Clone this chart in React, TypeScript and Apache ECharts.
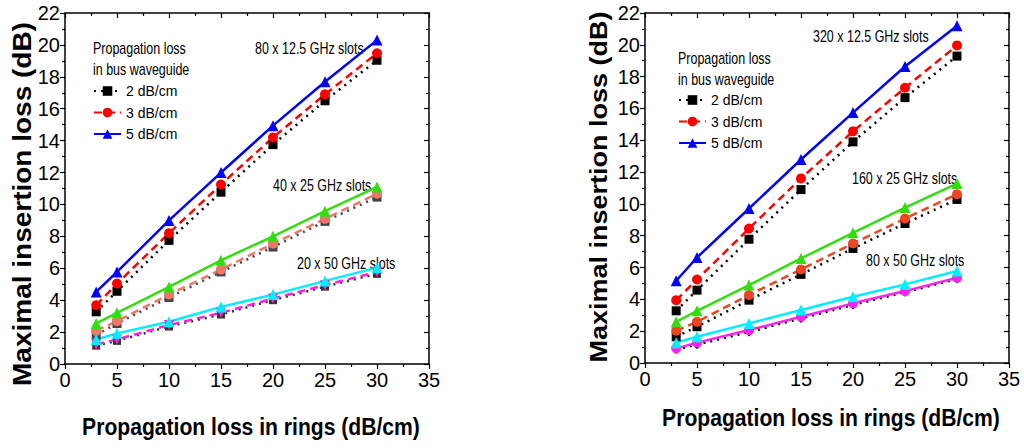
import React, { useEffect, useRef } from "react";
import * as echarts from "echarts";

const X = [3, 5, 10, 15, 20, 25, 30];
const X_TICKS = [0, 5, 10, 15, 20, 25, 30, 35];
const Y_TICKS = [0, 2, 4, 6, 8, 10, 12, 14, 16, 18, 20, 22];

// Left panel
const L_A_2 = [3.27, 4.56, 7.75, 10.77, 13.75, 16.5, 19.04];
const L_A_3 = [3.69, 5.04, 8.2, 11.25, 14.2, 16.9, 19.48];
const L_A_5 = [4.52, 5.77, 9.0, 12.0, 14.94, 17.69, 20.3];
const L_B_2 = [1.81, 2.54, 4.17, 5.77, 7.33, 8.94, 10.46];
const L_B_3 = [2.08, 2.69, 4.35, 5.92, 7.54, 9.1, 10.67];
const L_B_5 = [2.54, 3.21, 4.83, 6.5, 8.0, 9.58, 11.1];
const L_C_2 = [1.15, 1.45, 2.35, 3.1, 4.0, 4.85, 5.65];
const L_C_3 = [1.23, 1.54, 2.44, 3.21, 4.1, 4.94, 5.77];
const L_C_5 = [1.54, 1.92, 2.65, 3.58, 4.35, 5.21, 6.04];

// Right panel
const R_A_2 = [3.28, 4.58, 7.78, 10.9, 13.9, 16.68, 19.29];
const R_A_3 = [3.95, 5.25, 8.45, 11.6, 14.56, 17.3, 19.96];
const R_A_5 = [5.17, 6.63, 9.71, 12.79, 15.74, 18.64, 21.2];
const R_B_2 = [1.65, 2.28, 3.95, 5.57, 7.2, 8.77, 10.28];
const R_B_3 = [2.03, 2.59, 4.27, 5.88, 7.51, 9.08, 10.61];
const R_B_5 = [2.59, 3.28, 4.9, 6.57, 8.18, 9.77, 11.28];
const R_C_2 = [0.85, 1.15, 1.95, 2.8, 3.65, 4.45, 5.28];
const R_C_3 = [0.92, 1.28, 2.07, 2.91, 3.75, 4.52, 5.36];
const R_C_5 = [1.28, 1.65, 2.49, 3.33, 4.16, 4.94, 5.78];

const LEGEND_NAMES = ["2 dB/cm", "3 dB/cm", "5 dB/cm"];
const LEFT_LABELS = ["80 x 12.5 GHz slots", "40 x 25 GHz slots", "20 x 50 GHz slots"];
const RIGHT_LABELS = ["320 x 12.5 GHz slots", "160 x 25 GHz slots", "80 x 50 GHz slots"];
const Y_TITLE = "Maximal insertion loss (dB)";
const X_TITLE = "Propagation loss in rings (dB/cm)";
const LEGEND_TITLE = ["Propagation loss", "in bus waveguide"];

const FONT = "'Liberation Sans', Arial, sans-serif";

const pts = (ys: number[]) => X.map((x, i) => [x, ys[i]]);

type Sty = { color: string; symbol: string; size: number; type: any; width?: number };

const DOT: any = [2, 5];
const DASH: any = [8, 5];

function line(name: string, ys: number[], grid: number, s: Sty) {
  return {
    name,
    type: "line",
    xAxisIndex: grid * 2,
    yAxisIndex: grid * 2,
    data: pts(ys),
    symbol: s.symbol,
    symbolSize: s.size,
    showSymbol: true,
    itemStyle: { color: s.color },
    lineStyle: { color: s.color, width: s.width ?? 2.5, type: s.type },
    emphasis: { disabled: true },
  };
}

function axesFor(grid: number) {
  const common = {
    gridIndex: grid,
    type: "value",
    splitLine: { show: false },
    axisLine: { show: true, onZero: false, lineStyle: { color: "#000", width: 1.5 } },
  };
  const tickStyle = { color: "#000", width: 1.2 };
  const xs = [
    {
      ...common,
      position: "bottom",
      min: X_TICKS[0],
      max: X_TICKS[X_TICKS.length - 1],
      interval: 5,
      axisTick: { show: true, inside: false, length: 5, lineStyle: tickStyle },
      minorTick: { show: true, splitNumber: 2, length: 3, lineStyle: tickStyle },
      axisLabel: { color: "#000", fontSize: 20, fontFamily: FONT, margin: 6 },
    },
    {
      ...common,
      position: "top",
      min: X_TICKS[0],
      max: X_TICKS[X_TICKS.length - 1],
      interval: 5,
      axisTick: { show: true, inside: true, length: 5, lineStyle: tickStyle },
      minorTick: { show: true, splitNumber: 2, length: 3, lineStyle: tickStyle },
      axisLabel: { show: false },
    },
  ];
  const ys = [
    {
      ...common,
      position: "left",
      min: Y_TICKS[0],
      max: Y_TICKS[Y_TICKS.length - 1],
      interval: 2,
      axisTick: { show: true, inside: false, length: 5, lineStyle: tickStyle },
      minorTick: { show: true, splitNumber: 2, length: 3, lineStyle: tickStyle },
      axisLabel: { color: "#000", fontSize: 20, fontFamily: FONT, margin: 5 },
    },
    {
      ...common,
      position: "right",
      min: Y_TICKS[0],
      max: Y_TICKS[Y_TICKS.length - 1],
      interval: 2,
      axisTick: { show: true, inside: true, length: 5, lineStyle: tickStyle },
      minorTick: { show: true, splitNumber: 2, length: 3, lineStyle: tickStyle },
      axisLabel: { show: false },
    },
  ];
  return { xs, ys };
}

function txt(x: number, y: number, text: string) {
  return {
    type: "text",
    x,
    y,
    scaleX: 0.78,
    silent: true,
    style: {
      text,
      fill: "#000",
      font: `16px ${FONT}`,
      textVerticalAlign: "middle",
    },
  };
}

export default function App() {
  const ref = useRef<HTMLDivElement>(null);
  useEffect(() => {
    if (!ref.current) return;
    const chart = echarts.init(ref.current, undefined, { renderer: "svg" });
    const a0 = axesFor(0);
    const a1 = axesFor(1);

    const series = [
      // left, top group
      line(LEGEND_NAMES[0], L_A_2, 0, { color: "#000000", symbol: "rect", size: 9, type: DOT }),
      line(LEGEND_NAMES[1], L_A_3, 0, { color: "#ff0000", symbol: "circle", size: 10, type: DASH }),
      line(LEGEND_NAMES[2], L_A_5, 0, { color: "#0000ff", symbol: "triangle", size: 11, type: "solid" }),
      // left, middle group
      line("L40-2", L_B_2, 0, { color: "#444444", symbol: "rect", size: 9, type: DOT }),
      line("L40-3", L_B_3, 0, { color: "#ee7766", symbol: "circle", size: 10, type: DASH }),
      line("L40-5", L_B_5, 0, { color: "#33dd11", symbol: "triangle", size: 11, type: "solid" }),
      // left, bottom group
      line("L20-2", L_C_2, 0, { color: "#333333", symbol: "rect", size: 8, type: DOT }),
      line("L20-3", L_C_3, 0, { color: "#ff22dd", symbol: "path://M0,0L10,0L5,9Z", size: 10, type: DASH }),
      line("L20-5", L_C_5, 0, { color: "#00eeff", symbol: "triangle", size: 11, type: "solid" }),
      // right, top group
      line(LEGEND_NAMES[0], R_A_2, 1, { color: "#000000", symbol: "rect", size: 9, type: DOT }),
      line(LEGEND_NAMES[1], R_A_3, 1, { color: "#ff0000", symbol: "circle", size: 10, type: DASH }),
      line(LEGEND_NAMES[2], R_A_5, 1, { color: "#0000ff", symbol: "triangle", size: 11, type: "solid" }),
      // right, middle group
      line("R160-2", R_B_2, 1, { color: "#000000", symbol: "rect", size: 9, type: DOT }),
      line("R160-3", R_B_3, 1, { color: "#ee4422", symbol: "circle", size: 10, type: DASH }),
      line("R160-5", R_B_5, 1, { color: "#33dd11", symbol: "triangle", size: 11, type: "solid" }),
      // right, bottom group
      line("R80-2", R_C_2, 1, { color: "#000000", symbol: "diamond", size: 9, type: DOT }),
      line("R80-3", R_C_3, 1, { color: "#ff22ee", symbol: "circle", size: 10, type: "solid" }),
      line("R80-5", R_C_5, 1, { color: "#00eeff", symbol: "triangle", size: 11, type: "solid" }),
    ];

    const legendCommon = {
      orient: "vertical",
      data: LEGEND_NAMES,
      itemWidth: 27,
      itemHeight: 12,
      itemGap: 7.5,
      padding: 0,
      selectedMode: false,
      textStyle: { color: "#000", fontSize: 14, lineHeight: 14, fontFamily: FONT },
    };

    const yTitle = (cx: number, cy: number, size: number) => ({
      type: "text",
      x: cx,
      y: cy,
      rotation: Math.PI / 2,
      scaleY: 0.92,
      silent: true,
      style: {
        text: Y_TITLE,
        fill: "#000",
        font: `bold ${size}px ${FONT}`,
        textAlign: "center",
        textVerticalAlign: "middle",
      },
    });
    const xTitle = (cx: number, cy: number) => ({
      type: "text",
      x: cx,
      y: cy,
      scaleX: 0.88,
      silent: true,
      style: {
        text: X_TITLE,
        fill: "#000",
        font: `bold 24px ${FONT}`,
        textAlign: "center",
        textVerticalAlign: "middle",
      },
    });

    chart.setOption({
      animation: false,
      backgroundColor: "#ffffff",
      grid: [
        { left: 65, top: 13, width: 364, height: 351 },
        { left: 645, top: 13, width: 364, height: 350 },
      ],
      xAxis: [...a0.xs, ...a1.xs],
      yAxis: [...a0.ys, ...a1.ys],
      legend: [
        { ...legendCommon, left: 93, top: 84 },
        { ...legendCommon, left: 678, top: 93 },
      ],
      series,
      graphic: [
        yTitle(22, 204, 28),
        yTitle(598, 187, 27),
        xTitle(251, 427),
        xTitle(831, 418),
        txt(93, 48, LEGEND_TITLE[0]),
        txt(93, 69, LEGEND_TITLE[1]),
        txt(678, 58, LEGEND_TITLE[0]),
        txt(678, 79, LEGEND_TITLE[1]),
        txt(255, 48, LEFT_LABELS[0]),
        txt(273, 185, LEFT_LABELS[1]),
        txt(297, 263, LEFT_LABELS[2]),
        txt(813, 36, RIGHT_LABELS[0]),
        txt(852, 178, RIGHT_LABELS[1]),
        txt(866, 260, RIGHT_LABELS[2]),
      ],
    });
    return () => chart.dispose();
  }, []);
  return (
    <div
      ref={ref}
      style={{ position: "absolute", left: 0, top: 0, width: 1024, height: 448, background: "#fff" }}
    />
  );
}
